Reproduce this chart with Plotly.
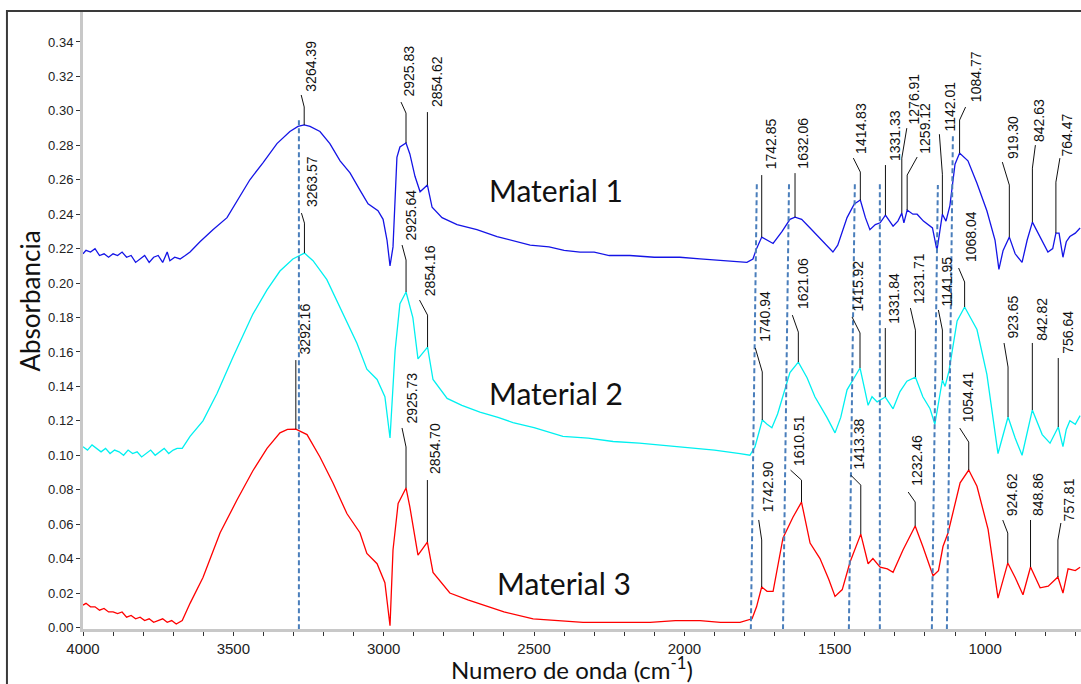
import plotly.graph_objects as go

# ---------------- data ----------------
m1_wn = [4000, 3990, 3975, 3960, 3945, 3930, 3915, 3900, 3885, 3870, 3855, 3840, 3825, 3810, 3795, 3780,
         3765, 3750, 3735, 3720, 3711, 3695, 3677, 3660, 3644, 3611, 3568, 3521, 3478, 3445, 3401, 3355,
         3312, 3285, 3264.39, 3245, 3212, 3179, 3145, 3112, 3079, 3052, 3019, 3002, 2989, 2979, 2969, 2956,
         2946, 2925.83, 2913, 2896, 2879, 2854.62, 2839, 2806, 2756, 2690, 2623, 2560, 2513, 2450, 2400,
         2347, 2300, 2250, 2181, 2100, 2015, 1948, 1880, 1815, 1792, 1772, 1760, 1742.85, 1725, 1705, 1675,
         1649, 1632.06, 1610, 1582, 1560, 1539, 1506, 1490, 1459, 1435, 1414.83, 1398, 1383, 1365, 1349,
         1331.33, 1306, 1290, 1276.91, 1270, 1259.12, 1240, 1226, 1205, 1190, 1175, 1160, 1142.01, 1130,
         1117, 1100, 1084.77, 1057, 1027, 994, 967, 954, 940, 919.30, 900, 877, 860, 842.63, 817, 791, 775,
         764.47, 754, 741, 730, 718, 700, 684]
m1_abs = [.217, .219, .218, .220, .216, .217, .215, .217, .216, .218, .215, .216, .212, .214, .216, .212,
          .215, .216, .212, .218, .213, .215, .214, .216, .218, .224, .231, .238, .250, .260, .270, .281,
          .288, .291, .2918, .291, .288, .281, .271, .264, .254, .246, .242, .237, .225, .210, .221, .273,
          .279, .2813, .275, .262, .253, .2569, .244, .238, .234, .231, .227, .224, .222, .221, .219,
          .218, .218, .216, .216, .215, .215, .214, .213, .212, .212, .214, .220, .2267, .225, .223, .230,
          .237, .2383, .237, .232, .228, .224, .218, .222, .238, .246, .2482, .238, .231, .234, .235,
          .2395, .233, .236, .2406, .235, .2424, .240, .240, .236, .234, .232, .219, .240, .236,
          .245, .269, .2755, .271, .258, .242, .225, .208, .219, .2267, .217, .212, .225, .2354, .227, .218, .220,
          .229, .229, .215, .224, .227, .229, .232]

m2_wn = [4000, 3985, 3970, 3955, 3940, 3925, 3910, 3895, 3880, 3865, 3850, 3835, 3820, 3805, 3790, 3775,
         3760, 3745, 3730, 3715, 3700, 3687, 3670, 3644, 3601, 3554, 3501, 3435, 3388, 3345, 3302, 3263.57,
         3235, 3189, 3135, 3089, 3056, 3022, 2996, 2979, 2962, 2946, 2925.64, 2903, 2886, 2854.16, 2836,
         2789, 2740, 2680, 2620, 2570, 2500, 2404, 2320, 2237, 2150, 2015, 1900, 1815, 1782, 1765, 1740.94,
         1725, 1709, 1690, 1672, 1649, 1621.06, 1592, 1566, 1545, 1526, 1499, 1480, 1459, 1415.92, 1400,
         1389, 1376, 1359, 1331.84, 1306, 1283, 1260, 1231.71, 1207, 1183, 1167, 1141.95, 1133, 1120, 1093,
         1068.04, 1027, 994, 957, 923.65, 900, 877, 842.82, 810, 784, 756.64, 741, 730, 718, 700, 684]
m2_abs = [.105, .103, .106, .104, .102, .104, .101, .103, .102, .100, .103, .101, .102, .099, .101, .103,
          .100, .102, .104, .101, .103, .104, .104, .111, .120, .136, .157, .182, .196, .207, .214, .2174,
          .213, .202, .182, .165, .150, .144, .134, .110, .161, .188, .1948, .180, .156, .1628, .144,
          .133, .129, .125, .122, .119, .116, .111, .110, .108, .107, .105, .103, .101, .100, .105, .1205,
          .118, .116, .124, .134, .148, .1541, .145, .134, .128, .122, .113, .122, .138, .1507, .138,
          .129, .134, .131, .1338, .127, .137, .143, .1454, .134, .127, .118, .1437, .140, .149, .178,
          .1861, .173, .147, .101, .1222, .110, .100, .1263, .112, .107, .1164, .105, .115, .120, .118, .123]

m3_wn = [4000, 3990, 3975, 3960, 3945, 3930, 3915, 3900, 3885, 3870, 3855, 3840, 3825, 3810, 3795, 3780,
         3765, 3750, 3735, 3720, 3705, 3690, 3670, 3644, 3601, 3544, 3488, 3435, 3388, 3345, 3320, 3292.16,
         3255, 3212, 3169, 3122, 3079, 3056, 3022, 2996, 2979, 2969, 2952, 2925.73, 2913, 2886, 2854.70,
         2836, 2780, 2720, 2670, 2600, 2503, 2420, 2337, 2220, 2114, 2030, 1948, 1880, 1815, 1775, 1760,
         1742.90, 1725, 1705, 1690, 1672, 1639, 1610.51, 1582, 1549, 1520, 1499, 1475, 1449, 1413.38, 1389,
         1373, 1349, 1325, 1306, 1273, 1232.46, 1207, 1173, 1155, 1140, 1123, 1083, 1054.41, 1027, 990, 957,
         924.62, 900, 874, 848.86, 817, 790, 757.81, 741, 724, 700, 684]
m3_abs = [.013, .014, .012, .012, .010, .011, .009, .009, .008, .009, .006, .007, .005, .006, .004, .005,
          .003, .004, .005, .003, .004, .002, .004, .014, .029, .055, .074, .091, .104, .113, .115, .1152,
          .112, .099, .084, .066, .055, .043, .037, .026, .001, .045, .072, .0810, .070, .042, .0496,
          .032, .020, .016, .013, .009, .005, .004, .003, .003, .003, .004, .004, .003, .003, .005, .012,
          .0235, .021, .021, .035, .052, .064, .0728, .049, .040, .028, .018, .022, .038, .0542, .037,
          .040, .035, .034, .032, .045, .0589, .047, .030, .033, .047, .055, .084, .0914, .082, .057, .017,
          .0374, .029, .019, .0351, .023, .024, .0293, .020, .034, .033, .035]

# labelled peak positions (cm-1)
m1_peaks = [3264.39, 2925.83, 2854.62, 1742.85, 1632.06, 1414.83, 1331.33, 1276.91, 1259.12, 1142.01,
            1084.77, 919.30, 842.63, 764.47]
m2_peaks = [3263.57, 2925.64, 2854.16, 1740.94, 1621.06, 1415.92, 1331.84, 1231.71, 1141.95, 1068.04,
            923.65, 842.82, 756.64]
m3_peaks = [3292.16, 2925.73, 2854.70, 1742.90, 1610.51, 1413.38, 1232.46, 1054.41, 924.62, 848.86, 757.81]

# dashed reference lines: (wn at top, wn at bottom, absorbance at top)
ref_top_wn = [3282, 1759, 1652, 1433, 1350, 1157, 1107]
ref_bot_wn = [3282, 1779, 1672, 1453, 1350, 1177, 1127]
ref_top_abs = [0.296, 0.259, 0.258, 0.259, 0.258, 0.257, 0.286]

names = ["Material 1", "Material 2", "Material 3"]
name_wn = [2427, 2427, 2400]
name_abs = [0.254, 0.136, 0.0258]

# ---------------- label leader geometry (pixels: h1 vertical, dx/dy diagonal end, xs/ys text) ----
m1_geo = [(18, -3, 30, 7, 32), (30, -5, 41, 3, 45), (73, 0, 73, 9, 77), (62, 0, 62, 9, 67),
          (44, 0, 44, 8, 47), (28, -7, 42, 0, 45), (50, 0, 50, 9, 53), (55, 5, 85, 12, 88),
          (35, 10, 53, 17, 55), (40, -3, 80, 8, 82), (33, 6, 46, 16, 50), (52, -7, 75, 3, 77),
          (54, 3, 77, 6, 79), (51, 4, 75, 11, 76)]
m2_geo = [(30, -3, 40, 7, 45), (32, -4, 47, 4, 50), (32, -8, 47, 2, 50), (48, -7, 72, 3, 77),
          (30, -6, 47, 4, 52), (35, -8, 51, -2, 55), (69, 0, 69, 8, 72), (47, -5, 69, 3, 72),
          (50, -4, 70, 5, 73), (25, -6, 39, 6, 44), (50, -4, 74, 4, 77), (67, 0, 67, 10, 68),
          (69, 0, 69, 9, 72)]
m3_geo = [(69, 0, 69, 9, 74), (41, -4, 60, 6, 63), (62, 0, 62, 7, 67), (47, -3, 67, 7, 74),
          (22, -11, 32, -3, 35), (49, -10, 59, -2, 64), (24, -7, 34, 1, 39), (28, -9, 42, -1, 47),
          (30, -5, 43, 4, 46), (47, 0, 47, 7, 50), (37, 3, 54, 11, 55)]

colors = ["#1414e6", "#00f0f0", "#ff0000"]

fig = go.Figure()
series = [(m1_wn, m1_abs), (m2_wn, m2_abs), (m3_wn, m3_abs)]
for (wn, ab), c, n in zip(series, colors, names):
    fig.add_trace(go.Scatter(x=wn, y=ab, mode="lines", line=dict(color=c, width=1.3),
                             name=n, showlegend=False, hoverinfo="skip"))

shapes = []
annotations = []

for tw, bw, ta in zip(ref_top_wn, ref_bot_wn, ref_top_abs):
    shapes.append(dict(type="line", xref="x", yref="y", x0=bw, y0=-0.001, x1=tw, y1=ta,
                       line=dict(color="#4a7ebb", width=2, dash="5px,3px"), layer="above"))

for peaks, geo, (wn, ab) in zip([m1_peaks, m2_peaks, m3_peaks], [m1_geo, m2_geo, m3_geo], series):
    for p, (h1, dx, dy, xs, ys) in zip(peaks, geo):
        val = ab[wn.index(p)]
        shapes.append(dict(type="path", xref="x", yref="y", xsizemode="pixel", ysizemode="pixel",
                           xanchor=p, yanchor=val, path=f"M0,0 L0,{h1} L{dx},{dy}",
                           line=dict(color="#111111", width=1), layer="above"))
        annotations.append(dict(x=p, y=val, xref="x", yref="y", text=f"{p:.2f}", showarrow=False,
                                textangle=-90, xanchor="center", yanchor="bottom", xshift=xs, yshift=ys,
                                font=dict(family="Liberation Sans", size=14, color="#111111"),
                                borderpad=0))

for n, x, y in zip(names, name_wn, name_abs):
    annotations.append(dict(x=x, y=y, xref="x", yref="y", text=n, showarrow=False,
                            xanchor="center", yanchor="middle",
                            font=dict(family="Lato", size=30, color="#111111")))

# axis titles
annotations.append(dict(x=0.49, y=-0.035, xref="paper", yref="paper", xanchor="center", yanchor="top",
                        text="Numero de onda (cm<sup>-1</sup>)", showarrow=False, borderpad=0,
                        font=dict(family="Lato", size=24, color="#111111")))
annotations.append(dict(x=-0.053, y=0.53, xref="paper", yref="paper", textangle=-90,
                        xanchor="center", yanchor="middle",
                        text="Absorbancia", showarrow=False,
                        font=dict(family="Lato", size=26, color="#111111")))

# outer frame
shapes.append(dict(type="rect", xref="paper", yref="paper", x0=-0.0762, y0=-0.2, x1=1.05, y1=1.0,
                   line=dict(color="#3a3a3a", width=2), layer="above"))

fig.update_layout(
    width=1081, height=684,
    margin=dict(l=83, r=0, t=11, b=55),
    paper_bgcolor="white", plot_bgcolor="white",
    shapes=shapes, annotations=annotations,
    xaxis=dict(range=[4000, 681], showgrid=False, zeroline=False,
               showline=True, linecolor="#c8c8c8", linewidth=3,
               tickmode="array", tickvals=[4000, 3500, 3000, 2500, 2000, 1500, 1000],
               ticks="outside", ticklen=4, tickcolor="#333333",
               minor=dict(tickmode="array", tickvals=list(range(3900, 680, -100)),
                          ticks="outside", ticklen=4, tickcolor="#333333"),
               tickfont=dict(family="Liberation Sans", size=15, color="#222222")),
    yaxis=dict(range=[-0.0009, 0.358], showgrid=False, zeroline=False,
               showline=True, linecolor="#c8c8c8", linewidth=3,
               tickmode="array", tickvals=[i * 0.02 for i in range(18)],
               tickformat=".2f",
               ticks="outside", ticklen=4, tickcolor="#333333",
               tickfont=dict(family="Liberation Sans", size=13, color="#222222")),
)

fig.write_html("out.html", config={"displayModeBar": False},
               post_script="document.body.style.margin='0';document.body.style.overflow='hidden';")
